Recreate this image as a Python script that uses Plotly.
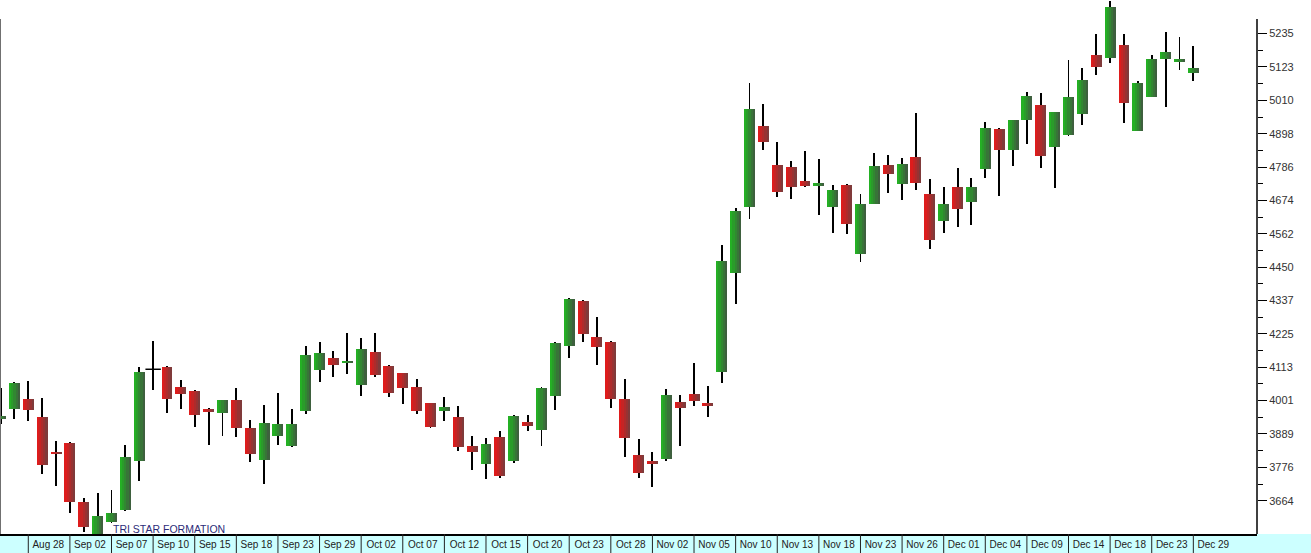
import plotly.graph_objects as go

# ---------------- data ----------------
dates = ["Aug 26", "Aug 27", "Aug 28", "Aug 31", "Sep 01", "Sep 02", "Sep 03", "Sep 04",
         "Sep 07", "Sep 08", "Sep 09", "Sep 10", "Sep 11", "Sep 14", "Sep 15", "Sep 16",
         "Sep 17", "Sep 18", "Sep 21", "Sep 22", "Sep 23", "Sep 25", "Sep 28", "Sep 29",
         "Sep 30", "Oct 01", "Oct 02", "Oct 05", "Oct 06", "Oct 07", "Oct 08", "Oct 09",
         "Oct 12", "Oct 13", "Oct 14", "Oct 15", "Oct 16", "Oct 19", "Oct 20", "Oct 21",
         "Oct 22", "Oct 23", "Oct 26", "Oct 27", "Oct 28", "Oct 29", "Oct 30", "Nov 02",
         "Nov 03", "Nov 04", "Nov 05", "Nov 06", "Nov 09", "Nov 10", "Nov 11", "Nov 12",
         "Nov 13", "Nov 16", "Nov 17", "Nov 18", "Nov 19", "Nov 20", "Nov 23", "Nov 24",
         "Nov 25", "Nov 26", "Nov 27", "Nov 30", "Dec 01", "Dec 02", "Dec 03", "Dec 04",
         "Dec 07", "Dec 08", "Dec 09", "Dec 10", "Dec 11", "Dec 14", "Dec 15", "Dec 17",
         "Dec 18", "Dec 21", "Dec 22", "Dec 23", "Dec 24", "Dec 28", "Dec 29"]

opens = [3938, 3972, 4006, 3946, 3828, 3857, 3660, 3545, 3593, 3633, 3799, 4106, 4114, 4046, 4033, 3971,
         3960, 4002, 3909, 3802, 3883, 3848, 3967, 4104, 4143, 4126, 4053, 4165, 4117, 4093, 4045, 3992,
         3967, 3947, 3848, 3788, 3879, 3798, 3930, 3902, 4016, 4184, 4336, 4216, 4198, 4007, 3818, 3798,
         3804, 3996, 4023, 3992, 4098, 4429, 4651, 4925, 4793, 4787, 4740, 4724, 4653, 4726, 4495, 4663,
         4793, 4730, 4819, 4696, 4606, 4719, 4667, 4781, 4914, 4845, 4946, 4995, 4855, 4894, 4966, 5163,
         5154, 5197, 4909, 5023, 5151, 5138, 5104]
highs = [4042, 4064, 4067, 4010, 3865, 3860, 3672, 3689, 3700, 3851, 4115, 4201, 4116, 4070, 4036, 3977,
         4004, 4042, 3935, 3986, 4027, 3972, 4184, 4197, 4168, 4227, 4210, 4227, 4119, 4095, 4072, 3994,
         4012, 3983, 3882, 3874, 3898, 3951, 3952, 4045, 4197, 4345, 4338, 4283, 4200, 4074, 3872, 3829,
         4041, 4020, 4126, 4050, 4524, 4648, 5068, 4997, 4870, 4807, 4840, 4812, 4726, 4728, 4696, 4833,
         4827, 4816, 4967, 4747, 4720, 4782, 4751, 4937, 4918, 4946, 5039, 5035, 4973, 5147, 5119, 5234,
         5343, 5233, 5074, 5163, 5240, 5224, 5194]
lows = [3921, 3938, 3933, 3754, 3714, 3624, 3560, 3540, 3590, 3630, 3731, 4036, 3958, 3972, 3911, 3851,
        3882, 3879, 3795, 3720, 3851, 3846, 3956, 4064, 4081, 4090, 4016, 4081, 4012, 3988, 3955, 3910,
        3933, 3832, 3767, 3737, 3741, 3790, 3900, 3849, 3969, 4145, 4198, 4120, 3977, 3812, 3741, 3709,
        3799, 3849, 3983, 3947, 4059, 4325, 4611, 4843, 4687, 4680, 4720, 4626, 4566, 4561, 4468, 4661,
        4700, 4676, 4709, 4511, 4566, 4586, 4592, 4749, 4690, 4791, 4864, 4784, 4717, 4892, 4928, 5096,
        5135, 4936, 4907, 5021, 4988, 5113, 5074]
closes = [3949, 4061, 3969, 3784, 3822, 3661, 3577, 3613, 3624, 3812, 4097, 4106, 4006, 4024, 3953, 3961,
          4002, 3910, 3822, 3925, 3922, 3922, 4154, 4160, 4122, 4135, 4174, 4087, 4027, 4044, 3967, 3913,
          3979, 3846, 3828, 3855, 3747, 3949, 3916, 4042, 4196, 4343, 4225, 4182, 4007, 3876, 3758, 3788,
          4020, 3977, 3999, 3984, 4470, 4639, 4982, 4872, 4703, 4720, 4724, 4732, 4709, 4595, 4662, 4790,
          4764, 4797, 4734, 4541, 4662, 4646, 4719, 4917, 4845, 4945, 5026, 4825, 4972, 5022, 5079, 5124,
          5326, 5003, 5069, 5150, 5173, 5150, 5120]

price_ticks = [3664, 3776, 3889, 4001, 4113, 4225, 4337, 4450, 4562, 4674, 4786, 4898, 5010, 5123, 5235]
label_start = 2      # first labelled trading day (Aug 28)
label_step = 3       # every third trading day carries a label

note_text = "TRI STAR FORMATION"
note_day = 8         # Sep 07
note_price = 3569

# ---------------- styling ----------------
Y_RANGE = [3552, 5348]
X_RANGE = [-0.04, 90.59]
W, H = 1311, 553
M_L, M_R, M_T, M_B = 0, 54, 0, 19
BODY_W = 0.79
WICK_W = 0.065
N_STRIPS = 5
GREEN_L, GREEN_R = (36, 176, 36), (62, 96, 62)
RED_L, RED_R = (222, 28, 28), (128, 58, 58)
BAND = "#ccffff"
FONT = "Liberation Sans, Arial, sans-serif"

x = list(range(len(dates)))
up = [i for i in x if closes[i] > opens[i]]
down = [i for i in x if closes[i] < opens[i]]
flat = [i for i in x if closes[i] == opens[i]]

fig = go.Figure()

# wicks (drawn first so bodies cover them)
fig.add_trace(go.Bar(
    x=x, base=lows, y=[h - l for h, l in zip(highs, lows)],
    width=WICK_W, marker=dict(color="black", line=dict(width=0)),
    hoverinfo="skip"))


def mix(c0, c1, t):
    return "rgb(%d,%d,%d)" % tuple(round(a + (b - a) * t) for a, b in zip(c0, c1))


def add_bodies(idx, c0, c1):
    bases = [min(opens[i], closes[i]) for i in idx]
    sizes = [abs(closes[i] - opens[i]) for i in idx]
    sw = BODY_W / N_STRIPS
    for k in range(N_STRIPS):
        fig.add_trace(go.Bar(
            x=idx, base=bases, y=sizes, width=sw,
            offset=-BODY_W / 2 + k * sw,
            marker=dict(color=mix(c0, c1, k / (N_STRIPS - 1)), line=dict(width=0)),
            hoverinfo="skip"))


add_bodies(up, GREEN_L, GREEN_R)
add_bodies(down, RED_L, RED_R)

# unchanged sessions: plain black dash
fig.add_trace(go.Scatter(
    x=flat, y=[opens[i] for i in flat], mode="markers",
    marker=dict(symbol="line-ew", size=11, line=dict(width=1.5, color="black")),
    hoverinfo="skip"))

tick_idx = list(range(label_start, len(dates), label_step))
minor_vals = [(a + b) / 2 for a, b in zip(price_ticks[:-1], price_ticks[1:])]

band_h = M_B / (H - M_T - M_B)
plot_w = W - M_L - M_R

shapes = [
    # date band
    dict(type="rect", xref="paper", yref="paper", x0=0, x1=W / plot_w,
         y0=-band_h, y1=0, fillcolor=BAND, line=dict(width=0), layer="below"),
    # right axis line
    dict(type="line", xref="paper", yref="y", x0=1, x1=1, y0=Y_RANGE[0], y1=5284,
         line=dict(color="black", width=1.5)),
    # left frame line
    dict(type="line", xref="paper", yref="y", x0=0, x1=0, y0=Y_RANGE[0], y1=5284,
         line=dict(color="#707070", width=2)),
]
for i in tick_idx:
    shapes.append(dict(type="line", xref="x", yref="paper", x0=i, x1=i,
                       y0=-band_h, y1=0, line=dict(color="#222222", width=1)))

fig.update_layout(
    width=W, height=H,
    margin=dict(l=M_L, r=M_R, t=M_T, b=M_B, pad=0),
    paper_bgcolor="white", plot_bgcolor="white",
    showlegend=False, barmode="overlay", bargap=0,
    font=dict(family=FONT, color="#222222"),
    shapes=shapes,
    annotations=[dict(
        x=note_day, y=note_price, xref="x", yref="y", text=note_text,
        showarrow=False, xanchor="left", yanchor="middle", xshift=-1,
        font=dict(family=FONT, size=10.5, color="#2c2c78"))],
    xaxis=dict(
        range=X_RANGE, tickmode="array", tickvals=tick_idx,
        ticktext=[dates[i] for i in tick_idx],
        ticks="", showgrid=False, zeroline=False,
        showline=True, linecolor="black", linewidth=2,
        tickfont=dict(size=10, color="#222222"), ticklabelshift=20,
        fixedrange=True),
    yaxis=dict(
        range=Y_RANGE, side="right", tickmode="array", tickvals=price_ticks,
        ticktext=[str(v) for v in price_ticks],
        ticks="outside", ticklen=9, tickwidth=1, tickcolor="black",
        showgrid=False, zeroline=False, showline=False,
        tickfont=dict(size=11, color="#333333"),
        minor=dict(tickmode="array", tickvals=minor_vals, ticks="outside",
                   ticklen=5, tickwidth=1, tickcolor="black"),
        fixedrange=True),
)

fig.write_html(
    "out.html",
    config={"displayModeBar": False},
    post_script="document.body.style.margin='0';document.body.style.overflow='hidden';",
)
